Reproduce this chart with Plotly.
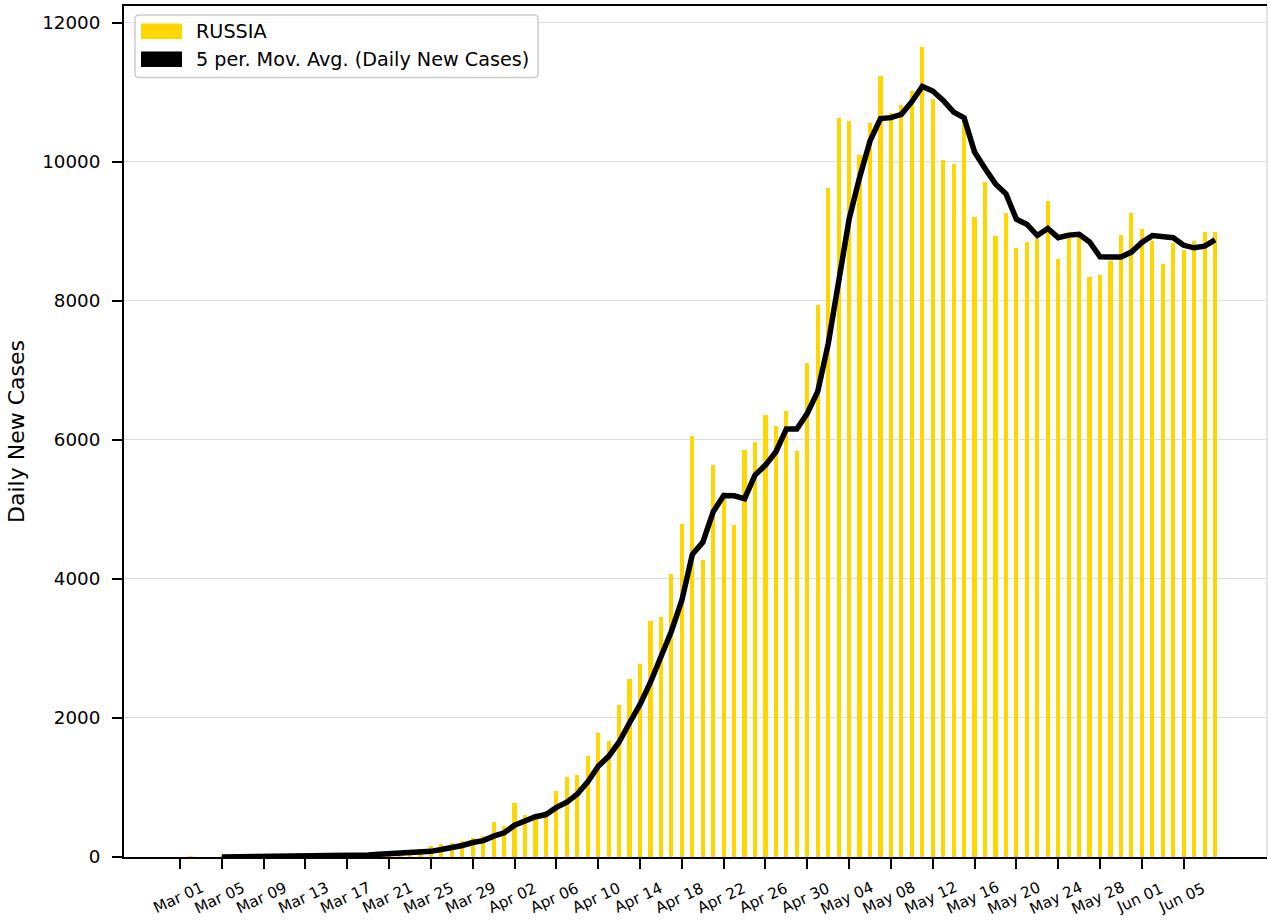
import pandas as pd
import plotly.graph_objects as go

# ---------------- data ----------------
dates = pd.date_range("2020-03-01", "2020-06-08", freq="D").strftime("%Y-%m-%d").tolist()

cases_mar = [0, 1, 0, 0, 1, 6, 4, 3, 0, 3, 0, 8, 17, 14, 4, 27, 24, 33, 52, 54,
             53, 61, 71, 57, 163, 182, 196, 228, 270, 302, 501]
cases_apr = [440, 771, 601, 582, 658, 954, 1154, 1175, 1459, 1786, 1667, 2186, 2558,
             2774, 3388, 3448, 4070, 4785, 6060, 4268, 5642, 5236, 4774, 5849, 5966,
             6361, 6198, 6411, 5841, 7099]
cases_may = [7933, 9623, 10633, 10581, 10102, 10559, 11231, 10699, 10817, 11012, 11656,
             10899, 10028, 9974, 10598, 9200, 9709, 8926, 9263, 8764, 8849, 8894, 9434,
             8599, 8946, 8915, 8338, 8371, 8572, 8952, 9268]
cases_jun = [9035, 8863, 8536, 8831, 8726, 8855, 8984, 8985]
daily_cases = cases_mar + cases_apr + cases_may + cases_jun

series_name = "RUSSIA"
ma_name = "5 per. Mov. Avg. (Daily New Cases)"
ma_window = 5
moving_avg = pd.Series(daily_cases).rolling(ma_window).mean().tolist()

x_tick_dates = ["2020-03-01", "2020-03-05", "2020-03-09", "2020-03-13", "2020-03-17",
                "2020-03-21", "2020-03-25", "2020-03-29", "2020-04-02", "2020-04-06",
                "2020-04-10", "2020-04-14", "2020-04-18", "2020-04-22", "2020-04-26",
                "2020-04-30", "2020-05-04", "2020-05-08", "2020-05-12", "2020-05-16",
                "2020-05-20", "2020-05-24", "2020-05-28", "2020-06-01", "2020-06-05"]
x_tick_labels = ["Mar 01", "Mar 05", "Mar 09", "Mar 13", "Mar 17", "Mar 21", "Mar 25",
                 "Mar 29", "Apr 02", "Apr 06", "Apr 10", "Apr 14", "Apr 18", "Apr 22",
                 "Apr 26", "Apr 30", "May 04", "May 08", "May 12", "May 16", "May 20",
                 "May 24", "May 28", "Jun 01", "Jun 05"]
y_tick_vals = [0, 2000, 4000, 6000, 8000, 10000, 12000]
y_tick_labels = ["0", "2000", "4000", "6000", "8000", "10000", "12000"]
y_title = "Daily New Cases"

# ---------------- layout constants ----------------
W, H = 1268, 923
ML, MR, MT, MB = 124, 1, 6, 66
PW, PH = W - ML - MR, H - MT - MB
FONT = "DejaVu Sans"
BAR_COLOR = "#FFD700"
DAY_MS = 86400000


def fx(px):
    return (px - ML) / PW


def fy(py):
    return (H - MB - py) / PH


x0_date = pd.Timestamp("2020-03-01")
x_range = [x0_date - pd.Timedelta(days=5.36), x0_date + pd.Timedelta(days=103.97)]

fig = go.Figure()
fig.add_trace(go.Bar(
    x=dates, y=daily_cases, name=series_name,
    marker=dict(color=BAR_COLOR, line=dict(width=0)),
    width=0.4 * DAY_MS, showlegend=False,
))
fig.add_trace(go.Scatter(
    x=dates, y=moving_avg, name=ma_name, mode="lines",
    line=dict(color="black", width=5.5), showlegend=False,
))

annotations = []
for d, lab in zip(x_tick_dates, x_tick_labels):
    annotations.append(dict(
        x=d, xref="x", y=0, yref="paper", text=lab, showarrow=False,
        xanchor="center", yanchor="middle", textangle=-25,
        xshift=-2, yshift=-41, font=dict(family=FONT, size=15.3, color="black"),
    ))

# legend (drawn manually to mimic the reference style)
bx0, bx1, by0, by1, r = 135, 538, 15, 77.5, 4
rx, ry = r / PW, r / PH
X0, X1, Y0, Y1 = fx(bx0), fx(bx1), fy(by0), fy(by1)
legend_path = (
    f"M {X0+rx},{Y0} L {X1-rx},{Y0} Q {X1},{Y0} {X1},{Y0-ry} "
    f"L {X1},{Y1+ry} Q {X1},{Y1} {X1-rx},{Y1} L {X0+rx},{Y1} "
    f"Q {X0},{Y1} {X0},{Y1+ry} L {X0},{Y0-ry} Q {X0},{Y0} {X0+rx},{Y0} Z"
)
shapes = [
    dict(type="path", xref="paper", yref="paper", path=legend_path,
         fillcolor="rgba(255,255,255,0.85)", line=dict(color="#cccccc", width=1.5),
         layer="above"),
    dict(type="rect", xref="paper", yref="paper", x0=fx(141), x1=fx(182),
         y0=fy(23.5), y1=fy(39), fillcolor=BAR_COLOR, line=dict(width=0), layer="above"),
    dict(type="rect", xref="paper", yref="paper", x0=fx(141), x1=fx(182),
         y0=fy(51.5), y1=fy(67), fillcolor="black", line=dict(width=0), layer="above"),
    dict(type="line", xref="paper", yref="paper", x0=1, x1=1, y0=0, y1=1,
         line=dict(color="#d0d0d0", width=1), layer="above"),
]
annotations.append(dict(x=fx(194), y=fy(31.5), xref="paper", yref="paper",
                        text=series_name, showarrow=False, xanchor="left",
                        yanchor="middle", font=dict(family=FONT, size=19.2, color="black")))
annotations.append(dict(x=fx(194), y=fy(59.5), xref="paper", yref="paper",
                        text=ma_name, showarrow=False, xanchor="left",
                        yanchor="middle", font=dict(family=FONT, size=19.2, color="black")))

fig.update_layout(
    width=W, height=H,
    margin=dict(l=ML, r=MR, t=MT, b=MB, pad=0),
    paper_bgcolor="white", plot_bgcolor="white",
    font=dict(family=FONT, color="black"),
    bargap=0,
    showlegend=False,
    annotations=annotations,
    shapes=shapes,
    xaxis=dict(
        type="date", range=x_range,
        tickmode="array", tickvals=x_tick_dates, showticklabels=False,
        ticks="outside", ticklen=10, tickwidth=2, tickcolor="black",
        showline=True, linecolor="black", linewidth=2, mirror=True,
        showgrid=False, zeroline=False,
    ),
    yaxis=dict(
        range=[0, 12240],
        tickmode="array", tickvals=y_tick_vals, ticktext=y_tick_labels,
        ticks="outside", ticklen=10, tickwidth=2, tickcolor="black",
        tickfont=dict(family=FONT, size=18.3, color="black"),
        ticklabelstandoff=8,
        showline=True, linecolor="black", linewidth=2,
        showgrid=True, gridcolor="#dddddd", gridwidth=1, zeroline=False,
        title=dict(text=y_title, font=dict(family=FONT, size=22, color="black"),
                   standoff=11),
    ),
)

fig.write_html("out.html", config={"displayModeBar": False},
               post_script="document.body.style.margin='0';")
